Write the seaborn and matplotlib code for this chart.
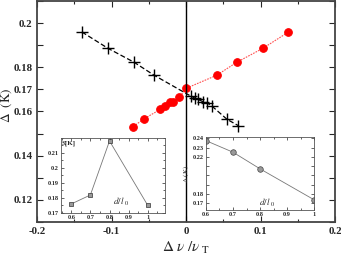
import matplotlib
matplotlib.use("Agg")
import matplotlib.pyplot as plt
import seaborn as sns
from matplotlib.ticker import FixedLocator, FuncFormatter, MultipleLocator

sns.set_style("ticks")
plt.rcParams["font.family"] = ["Liberation Serif", "DejaVu Serif"]
plt.rcParams["mathtext.fontset"] = "stix"

# main panel: black crosses (dashed) and red circles (dotted)
black_x = [-0.14, -0.105, -0.07, -0.043, 0.006, 0.012, 0.016, 0.022, 0.028, 0.035, 0.055, 0.07]
black_y = [0.196, 0.1886, 0.1823, 0.1764, 0.167, 0.166, 0.1655, 0.1645, 0.164, 0.1623, 0.1564, 0.1536]
red_x = [-0.071, -0.056, -0.035, -0.028, -0.0215, -0.0175, -0.0094, 0.0, 0.041, 0.068, 0.103, 0.137]
red_y = [0.1532, 0.1568, 0.1609, 0.1623, 0.1641, 0.1645, 0.1664, 0.1705, 0.1764, 0.1823, 0.1886, 0.1959]
y_labelled = [0.12, 0.14, 0.16, 0.17, 0.18, 0.2]

# left inset: S[K] vs d/l0
s_d = [0.6, 0.7, 0.8, 1.0]
s_val = [0.176, 0.182, 0.218, 0.175]
# right inset: Delta (K) vs d/l0
g_d = [0.6, 0.7, 0.8, 1.0]
g_val = [0.2375, 0.225, 0.207, 0.1735]

fig = plt.figure(figsize=(3.41, 2.56), dpi=100)
ax = fig.add_axes([0.109, 0.133, 0.874, 0.863])

sns.lineplot(x=black_x, y=black_y, sort=False, estimator=None, ax=ax, color="black",
             linestyle=(0, (4, 2)), lw=0.9, marker="+", markersize=8, mew=1.0, mec="black")
sns.lineplot(x=red_x, y=red_y, sort=False, estimator=None, ax=ax, color="#ff5050",
             linestyle=(0, (1.5, 1)), lw=0.8, marker="o", markersize=5.5, mec="red", mfc="red")
ax.axvline(0, color="black", lw=1.0)

ax.set_xlim(-0.2, 0.2)
ax.set_ylim(0.11, 0.21)
ax.xaxis.set_major_locator(MultipleLocator(0.1))
ax.xaxis.set_minor_locator(MultipleLocator(0.05))
ax.xaxis.set_major_formatter(FuncFormatter(lambda v, p: "0" if abs(v) < 1e-9 else f"{v:g}"))
ax.yaxis.set_major_locator(FixedLocator([0.11 + 0.01 * i for i in range(11)]))
ax.yaxis.set_major_formatter(FuncFormatter(
    lambda v, p: f"{v:g}" if any(abs(v - t) < 1e-6 for t in y_labelled) else ""))
ax.tick_params(which="both", direction="in", top=True, right=True, labelsize=7.8, width=0.8)
ax.tick_params(which="major", length=4)
ax.tick_params(which="minor", length=2.5)
for lab in ax.get_xticklabels() + ax.get_yticklabels():
    lab.set_fontweight("bold")
for sp in ax.spines.values():
    sp.set_linewidth(1.3)
    sp.set_color("#444444")
ax.set_xlabel(r"$\Delta\ \nu\ /\nu_{\ \mathrm{T}}$", fontsize=11, labelpad=3)
ax.set_ylabel(r"$\Delta\ \ \mathrm{(K)}$", fontsize=9.5)
ax.yaxis.set_label_coords(-0.077, 0.53)

# left inset
ax1 = fig.add_axes([0.178, 0.168, 0.306, 0.293])
sns.lineplot(x=s_d, y=s_val, sort=False, estimator=None, ax=ax1, color="#777777",
             lw=0.6, marker="s", markersize=3, mfc="#999999", mec="#333333", mew=0.5)
ax1.set_xlim(0.545, 1.09)
ax1.set_ylim(0.17, 0.22)
ax1.set_xticks([0.6, 0.7, 0.8, 0.9, 1.0])
ax1.set_xticklabels(["0.6", "0.7", "0.8", "0.9", "1"])
ax1.set_yticks([0.17, 0.18, 0.19, 0.2, 0.21])
ax1.set_yticklabels(["0.17", "0.18", "0.19", "0.2", "0.21"])
ax1.xaxis.set_minor_locator(MultipleLocator(0.05))
ax1.yaxis.set_minor_locator(MultipleLocator(0.005))
ax1.text(0.01, 0.97, "S[K]", transform=ax1.transAxes, fontsize=5, fontweight="bold",
         va="top", ha="left")
ax1.text(0.82, 0.1755, r"$d/l_{\ 0}$", fontsize=6.5)

# right inset
ax2 = fig.add_axes([0.604, 0.180, 0.317, 0.285])
sns.lineplot(x=g_d, y=g_val, sort=False, estimator=None, ax=ax2, color="#777777",
             lw=0.6, marker="o", markersize=4, mfc="#999999", mec="#444444", mew=0.5)
ax2.set_xlim(0.6, 1.0)
ax2.set_ylim(0.1625, 0.2415)
ax2.set_xticks([0.6, 0.7, 0.8, 0.9, 1.0])
ax2.set_xticklabels(["0.6", "0.7", "0.8", "0.9", "1"])
ax2.set_yticks([0.17, 0.18, 0.19, 0.2, 0.21, 0.22, 0.23, 0.24])
ax2.set_yticklabels(["0.17", "0.18", "", "", "", "0.22", "0.23", "0.24"])
ax2.xaxis.set_minor_locator(MultipleLocator(0.05))
ax2.set_ylabel(r"$\Delta\ \mathrm{(K)}$", fontsize=5, labelpad=1)
ax2.text(0.795, 0.1665, r"$d/l_{\ 0}$", fontsize=6.5)

for a in (ax1, ax2):
    a.tick_params(which="both", direction="in", top=True, right=True, labelsize=4.5,
                  width=0.5, pad=1.5)
    a.tick_params(which="major", length=2.5)
    a.tick_params(which="minor", length=1.3)
    for lab in a.get_xticklabels() + a.get_yticklabels():
        lab.set_fontweight("bold")
    for sp in a.spines.values():
        sp.set_linewidth(0.6)
        sp.set_color("#555555")

fig.savefig("out.png", dpi=100)
